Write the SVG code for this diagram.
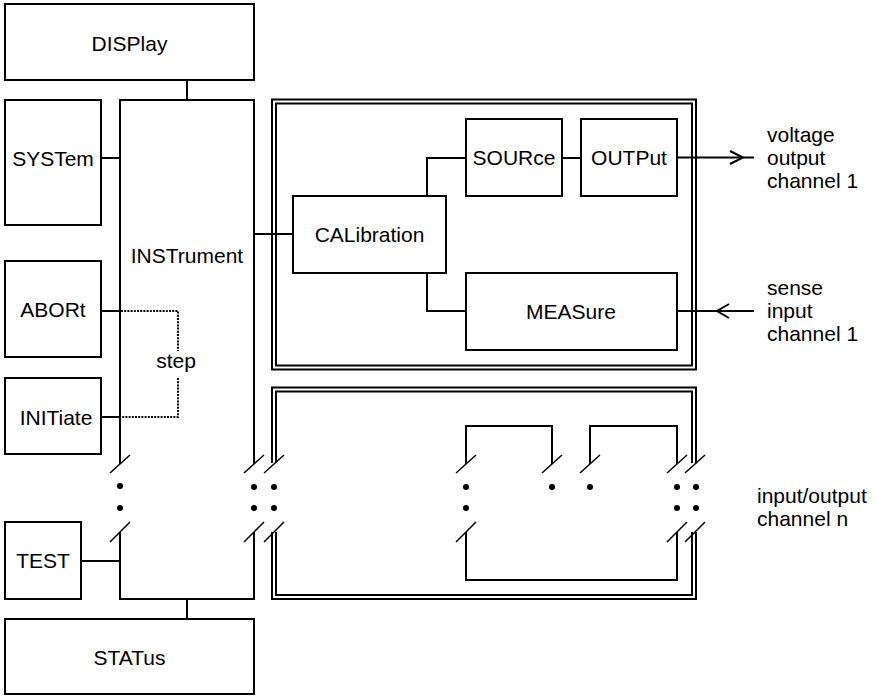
<svg xmlns="http://www.w3.org/2000/svg" width="878" height="696" viewBox="0 0 878 696">
<style>
.box{fill:#fff;stroke:#000;stroke-width:2}
.ln{fill:none;stroke:#000;stroke-width:2}
.sl{fill:none;stroke:#000;stroke-width:1.5}
.dt{fill:none;stroke:#000;stroke-width:2;stroke-dasharray:2 1.2}
.dbo{fill:none;stroke:#000;stroke-width:6}
.dbi{fill:none;stroke:#fff;stroke-width:2}
text{font-family:"Liberation Sans",Arial,sans-serif;font-size:21px;fill:#000}
.c{text-anchor:middle}
</style>
<rect width="878" height="696" fill="#fff"/>
<g id="frames">
<rect class="dbo" x="274" y="101.5" width="420" height="266"/>
<rect class="dbi" x="274" y="101.5" width="420" height="266"/>
<path class="dbo" d="M274,463 V389.5 H694 V463 M274,532 V597 H694 V532"/>
<path class="dbi" d="M274,466 V389.5 H694 V466 M274,529 V597 H694 V529"/>
</g>
<g id="connectors">
<path class="ln" d="M187,80 V100"/>
<path class="ln" d="M187,599 V619"/>
<path class="ln" d="M101,158 H120"/>
<path class="ln" d="M101,311 H120"/>
<path class="ln" d="M101,417 H120"/>
<path class="ln" d="M81,561 H120"/>
<path class="ln" d="M254,234 H293"/>
<path class="ln" d="M427,196 V158 H466"/>
<path class="ln" d="M427,273 V311 H466"/>
<path class="ln" d="M562,158 H581"/>
<path class="ln" d="M677,157.5 H754"/>
<path class="ln" d="M677,311 H754"/>
<polyline class="ln" points="730,151 743,157.5 730,164"/>
<polyline class="ln" points="729,304 717,311 729,318"/>
<path class="dt" d="M121,311 H178 V351"/>
<path class="dt" d="M178,378 V417 H121"/>
<path class="ln" d="M466,464 V426 H552 V464"/>
<path class="ln" d="M590,464 V426 H677 V464"/>
<path class="ln" d="M466,532 V580 H677 V532"/>
<g id="breaks">
<path class="sl" d="M110,473 L130,455 M110,542 L130,522"/>
<path class="sl" d="M244,473 L264,455 M244,542 L264,522"/>
<path class="sl" d="M264,473 L284,455 M264,542 L284,522"/>
<path class="sl" d="M456,473 L476,455 M456,542 L476,522"/>
<path class="sl" d="M542,473 L562,455"/>
<path class="sl" d="M580,473 L600,455"/>
<path class="sl" d="M667,473 L687,455 M667,542 L687,522"/>
<path class="sl" d="M685,473 L705,455 M685,542 L705,522"/>
</g>
<g id="dots" fill="#000">
<circle cx="120" cy="486" r="3"/><circle cx="120" cy="508" r="3"/>
<circle cx="254" cy="487" r="3"/><circle cx="254" cy="508" r="3"/>
<circle cx="274" cy="487" r="3"/><circle cx="274" cy="508" r="3"/>
<circle cx="466" cy="487" r="3"/><circle cx="466" cy="508" r="3"/>
<circle cx="552" cy="487" r="3"/>
<circle cx="590" cy="487" r="3"/>
<circle cx="677" cy="487" r="3"/><circle cx="677" cy="508" r="3"/>
<circle cx="696" cy="487" r="3"/><circle cx="696" cy="508" r="3"/>
</g>
</g>
<g id="display"><rect class="box" x="5" y="4" width="249" height="76"/><text class="c" x="129.5" y="51">DISPlay</text></g>
<g id="system"><rect class="box" x="5" y="100" width="96" height="125"/><text class="c" x="53" y="166">SYSTem</text></g>
<g id="abort"><rect class="box" x="5" y="261" width="96" height="96"/><text class="c" x="53" y="317">ABORt</text></g>
<g id="initiate"><rect class="box" x="5" y="378" width="96" height="76"/><text class="c" x="56" y="425">INITiate</text></g>
<g id="test"><rect class="box" x="5" y="522" width="76" height="77"/><text class="c" x="43" y="568">TEST</text></g>
<g id="status"><rect class="box" x="5" y="619" width="249" height="75"/><text class="c" x="129.5" y="665">STATus</text></g>
<g id="instrument">
<path class="ln" d="M120,464 V100 H254 V464 M120,532 V599 H254 V532"/>
<text class="c" x="187" y="263">INSTrument</text>
<text class="c" x="176" y="368">step</text>
</g>
<g id="calibration"><rect class="box" x="293" y="196" width="153" height="77"/><text class="c" x="369.5" y="242">CALibration</text></g>
<g id="source"><rect class="box" x="466" y="119" width="96" height="77"/><text class="c" x="514" y="165">SOURce</text></g>
<g id="output"><rect class="box" x="581" y="119" width="96" height="77"/><text class="c" x="629" y="165">OUTPut</text></g>
<g id="measure"><rect class="box" x="466" y="273" width="211" height="77"/><text class="c" x="571" y="319">MEASure</text></g>
<g id="labels">
<text x="767" y="142">voltage</text>
<text x="767" y="165">output</text>
<text x="767" y="188">channel 1</text>
<text x="767" y="295">sense</text>
<text x="767" y="318">input</text>
<text x="767" y="341">channel 1</text>
<text x="757" y="503">input/output</text>
<text x="757" y="526">channel n</text>
</g>
</svg>
